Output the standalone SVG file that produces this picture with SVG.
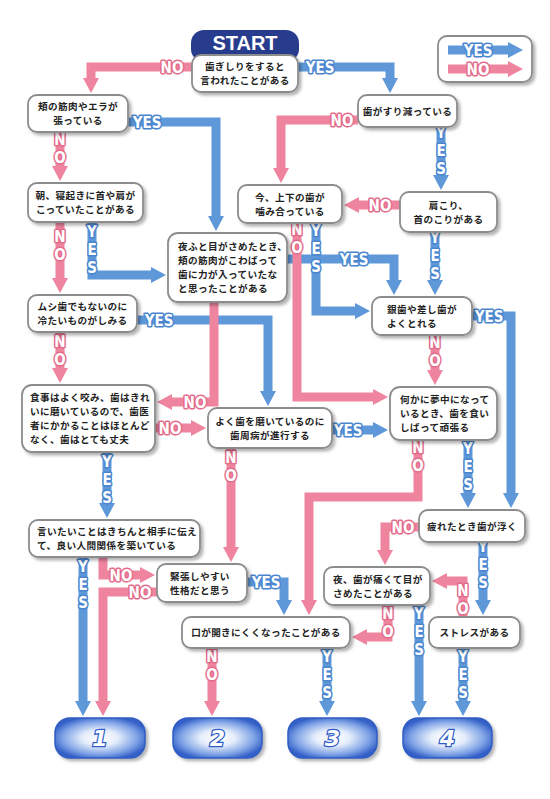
<svg xmlns="http://www.w3.org/2000/svg" width="550" height="799" viewBox="0 0 550 799">
<defs>
<style>
.b{fill:none;stroke:#5e98d8;stroke-width:9;marker-end:url(#ay)}
.p{fill:none;stroke:#ef849f;stroke-width:9;marker-end:url(#an)}
.ly,.ln{font-family:"DejaVu Sans Condensed","DejaVu Sans",sans-serif;font-stretch:condensed;font-weight:bold;font-size:15px;fill:#fff;stroke-width:3;paint-order:stroke;stroke-linejoin:round;text-anchor:middle}
.ly{stroke:#4a86cf}
.ln{stroke:#e36c8b}
.v{writing-mode:vertical-rl;text-orientation:upright}
.box{fill:#fff;stroke:#8c8c8c;stroke-width:1.8;filter:url(#sh)}
.t{font-family:"Noto Sans CJK JP",sans-serif;font-weight:bold;font-size:9.6px;letter-spacing:0.4px;fill:#222}
.c{text-anchor:middle}
.res{fill:url(#rg);stroke:#2f5cc4;stroke-width:1.5;filter:url(#sh)}
.num{font-family:"DejaVu Sans",sans-serif;font-weight:bold;font-style:italic;font-size:22px;fill:#fff;stroke:#2f5cc4;stroke-width:2.5;paint-order:stroke;text-anchor:middle}
</style>
<filter id="sh" x="-10%" y="-15%" width="130%" height="145%">
<feDropShadow dx="2.5" dy="2.5" stdDeviation="1.5" flood-color="#000" flood-opacity="0.3"/>
</filter>
<radialGradient id="rg" cx="50%" cy="50%" r="55%">
<stop offset="0" stop-color="#ffffff"/>
<stop offset="0.35" stop-color="#e6eefb"/>
<stop offset="0.75" stop-color="#7fa3e6"/>
<stop offset="1" stop-color="#3460c8"/>
</radialGradient>
<marker id="ay" markerUnits="userSpaceOnUse" markerWidth="15" markerHeight="16" viewBox="0 0 15 16" refX="0" refY="8" orient="auto">
<path d="M0,0 L15,8 L0,16 z" fill="#5e98d8"/>
</marker>
<marker id="an" markerUnits="userSpaceOnUse" markerWidth="15" markerHeight="16" viewBox="0 0 15 16" refX="0" refY="8" orient="auto">
<path d="M0,0 L15,8 L0,16 z" fill="#ef849f"/>
</marker>
</defs>
<rect width="550" height="799" fill="#fff"/>

<g id="connectors">
<path class="b" d="M298,67 H390 V78"/>
<path class="b" d="M128,122 H216 V216"/>
<path class="b" d="M92,222 V275 H151"/>
<path class="b" d="M137,320 H268 V391"/>
<path class="b" d="M107,452 V503"/>
<path class="b" d="M83,557 V701"/>
<path class="b" d="M247,582 H284 V600"/>
<path class="b" d="M332,430 H373"/>
<path class="b" d="M441,127 V175"/>
<path class="b" d="M435,232 V280"/>
<path class="b" d="M316,223 V311 H355"/>
<path class="b" d="M287,259 H394 V280"/>
<path class="b" d="M472,316 H511 V493"/>
<path class="b" d="M468,440 V493"/>
<path class="b" d="M483,542 V600"/>
<path class="b" d="M419,605 V701"/>
<path class="b" d="M463,648 V701"/>
<path class="b" d="M327,648 V701"/>

<path class="p" d="M192,67 H91 V78"/>
<path class="p" d="M60,132 V166"/>
<path class="p" d="M60,222 V278"/>
<path class="p" d="M60,332 V368"/>
<path class="p" d="M214,302 V402 H172"/>
<path class="p" d="M155,428 H191"/>
<path class="p" d="M103,557 V575 H140"/>
<path class="p" d="M157,592 H103 V701"/>
<path class="p" d="M231,448 V547"/>
<path class="p" d="M358,120 H281 V168"/>
<path class="p" d="M400,205 H359"/>
<path class="p" d="M297,223 V397 H373"/>
<path class="p" d="M435,335 V370"/>
<path class="p" d="M418,440 V497 H309 V600"/>
<path class="p" d="M419,527 H385 V550"/>
<path class="p" d="M463,617 V581 H447"/>
<path class="p" d="M388,605 V637 H367"/>
<path class="p" d="M212,648 V701"/>

<text class="ln" x="172" y="72.5">NO</text>
<text class="ly" x="320" y="72.5">YES</text>
<text class="ly" x="147" y="127.5">YES</text>
<text class="ly" x="159" y="325.5">YES</text>
<text class="ln" x="195" y="407.5">NO</text>
<text class="ln" x="170" y="433.5">NO</text>
<text class="ln" x="121" y="580.5">NO</text>
<text class="ln" x="140" y="597.5">NO</text>
<text class="ly" x="266" y="587.5">YES</text>
<text class="ly" x="348" y="435.5">YES</text>
<text class="ln" x="342" y="125.5">NO</text>
<text class="ln" x="380" y="210.5">NO</text>
<text class="ly" x="354" y="264.5">YES</text>
<text class="ly" x="489" y="321.5">YES</text>
<text class="ln" x="403" y="532.5">NO</text>

<text class="ln v" x="60" y="149">NO</text>
<text class="ln v" x="60" y="246">NO</text>
<text class="ly v" x="92" y="250">YES</text>
<text class="ln v" x="60" y="351">NO</text>
<text class="ly v" x="107" y="480">YES</text>
<text class="ly v" x="83" y="585">YES</text>
<text class="ln v" x="231" y="467">NO</text>
<text class="ly v" x="441" y="151">YES</text>
<text class="ly v" x="435" y="256">YES</text>
<text class="ln v" x="297" y="239">NO</text>
<text class="ly v" x="316" y="249">YES</text>
<text class="ln v" x="435" y="352">NO</text>
<text class="ln v" x="418" y="457">NO</text>
<text class="ly v" x="468" y="467">YES</text>
<text class="ly v" x="483" y="565">YES</text>
<text class="ln v" x="463" y="600">NO</text>
<text class="ln v" x="388" y="623">NO</text>
<text class="ly v" x="419" y="632">YES</text>
<text class="ly v" x="463" y="675">YES</text>
<text class="ln v" x="212" y="666">NO</text>
<text class="ly v" x="327" y="675">YES</text>
</g>

<g id="legend">
<rect class="box" x="438" y="36" width="94" height="46" rx="9"/>
<path class="b" d="M448,50 H508"/>
<path class="p" d="M448,69 H508"/>
<text class="ly" x="478" y="55.5">YES</text>
<text class="ln" x="478" y="74.5">NO</text>
</g>

<g id="start">
<rect x="191" y="30" width="108" height="32" rx="13" fill="#283c8e"/>
<text x="245" y="50" text-anchor="middle" style="font-family:'Liberation Sans',sans-serif;font-weight:bold;font-size:20px;fill:#fff">START</text>
<rect class="box" x="192" y="55" width="106" height="37" rx="9"/>
<text class="t c" x="245" y="70"><tspan x="245">歯ぎしりをすると</tspan><tspan x="245" dy="14">言われたことがある</tspan></text>
</g>

<g id="nA">
<rect class="box" x="28" y="95" width="100" height="37" rx="9"/>
<text class="t c" x="78" y="110"><tspan x="78">頬の筋肉やエラが</tspan><tspan x="78" dy="14">張っている</tspan></text>
</g>
<g id="nB">
<rect class="box" x="28" y="183" width="115" height="39" rx="9"/>
<text class="t c" x="85.5" y="199"><tspan x="85.5">朝、寝起きに首や肩が</tspan><tspan x="85.5" dy="14">こっていたことがある</tspan></text>
</g>
<g id="nC">
<rect class="box" x="28" y="295" width="109" height="37" rx="9"/>
<text class="t c" x="82.5" y="310"><tspan x="82.5">ムシ歯でもないのに</tspan><tspan x="82.5" dy="14">冷たいものがしみる</tspan></text>
</g>
<g id="nD">
<rect class="box" x="22" y="385" width="133" height="67" rx="10"/>
<text class="t" x="30" y="401"><tspan x="30">食事はよく咬み、歯はきれ</tspan><tspan x="30" dy="14">いに磨いているので、歯医</tspan><tspan x="30" dy="14">者にかかることはほとんど</tspan><tspan x="30" dy="14">なく、歯はとても丈夫</tspan></text>
</g>
<g id="nE">
<rect class="box" x="29" y="520" width="171" height="37" rx="9"/>
<text class="t" x="37" y="535"><tspan x="37">言いたいことはきちんと相手に伝え</tspan><tspan x="37" dy="14">て、良い人間関係を築いている</tspan></text>
</g>
<g id="nF">
<rect class="box" x="157" y="564" width="90" height="38" rx="9"/>
<text class="t" x="170" y="579.5"><tspan x="170">緊張しやすい</tspan><tspan x="170" dy="14">性格だと思う</tspan></text>
</g>
<g id="nG">
<rect class="box" x="182" y="617" width="168" height="31" rx="9"/>
<text class="t c" x="266" y="636">口が開きにくくなったことがある</text>
</g>
<g id="nH">
<rect class="box" x="168" y="233" width="119" height="69" rx="10"/>
<text class="t" x="178" y="250"><tspan x="178">夜ふと目がさめたとき、</tspan><tspan x="178" dy="14">頬の筋肉がこわばって</tspan><tspan x="178" dy="14">歯に力が入っていたな</tspan><tspan x="178" dy="14">と思ったことがある</tspan></text>
</g>
<g id="nI">
<rect class="box" x="208" y="408" width="124" height="40" rx="9"/>
<text class="t c" x="270" y="424.5"><tspan x="270">よく歯を磨いているのに</tspan><tspan x="270" dy="14">歯周病が進行する</tspan></text>
</g>
<g id="nJ">
<rect class="box" x="358" y="95" width="99" height="32" rx="9"/>
<text class="t c" x="407.5" y="114.5">歯がすり減っている</text>
</g>
<g id="nK">
<rect class="box" x="238" y="185" width="104" height="38" rx="9"/>
<text class="t c" x="290" y="200.5"><tspan x="290">今、上下の歯が</tspan><tspan x="290" dy="14">噛み合っている</tspan></text>
</g>
<g id="nL">
<rect class="box" x="400" y="192" width="97" height="40" rx="9"/>
<text class="t c" x="448.5" y="208.5"><tspan x="448.5">肩こり、</tspan><tspan x="448.5" dy="14">首のこりがある</tspan></text>
</g>
<g id="nM">
<rect class="box" x="372" y="297" width="100" height="38" rx="9"/>
<text class="t" x="387" y="312.5"><tspan x="387">銀歯や差し歯が</tspan><tspan x="387" dy="14">よくとれる</tspan></text>
</g>
<g id="nN">
<rect class="box" x="390" y="387" width="107" height="53" rx="10"/>
<text class="t" x="400" y="403"><tspan x="400">何かに夢中になって</tspan><tspan x="400" dy="14">いるとき、歯を食い</tspan><tspan x="400" dy="14">しばって頑張る</tspan></text>
</g>
<g id="nO">
<rect class="box" x="419" y="510" width="106" height="32" rx="9"/>
<text class="t c" x="472" y="529.5">疲れたとき歯が浮く</text>
</g>
<g id="nP">
<rect class="box" x="324" y="567" width="106" height="38" rx="9"/>
<text class="t" x="333" y="582.5"><tspan x="333">夜、歯が痛くて目が</tspan><tspan x="333" dy="14">さめたことがある</tspan></text>
</g>
<g id="nQ">
<rect class="box" x="429" y="617" width="91" height="31" rx="9"/>
<text class="t c" x="474.5" y="636">ストレスがある</text>
</g>

<g id="r1"><rect class="res" x="55" y="718" width="90" height="40" rx="15"/><text class="num" x="100" y="746">1</text></g>
<g id="r2"><rect class="res" x="173" y="718" width="89" height="40" rx="15"/><text class="num" x="217.5" y="746">2</text></g>
<g id="r3"><rect class="res" x="288" y="718" width="89" height="40" rx="15"/><text class="num" x="332.5" y="746">3</text></g>
<g id="r4"><rect class="res" x="403" y="718" width="89" height="40" rx="15"/><text class="num" x="447.5" y="746">4</text></g>
</svg>
